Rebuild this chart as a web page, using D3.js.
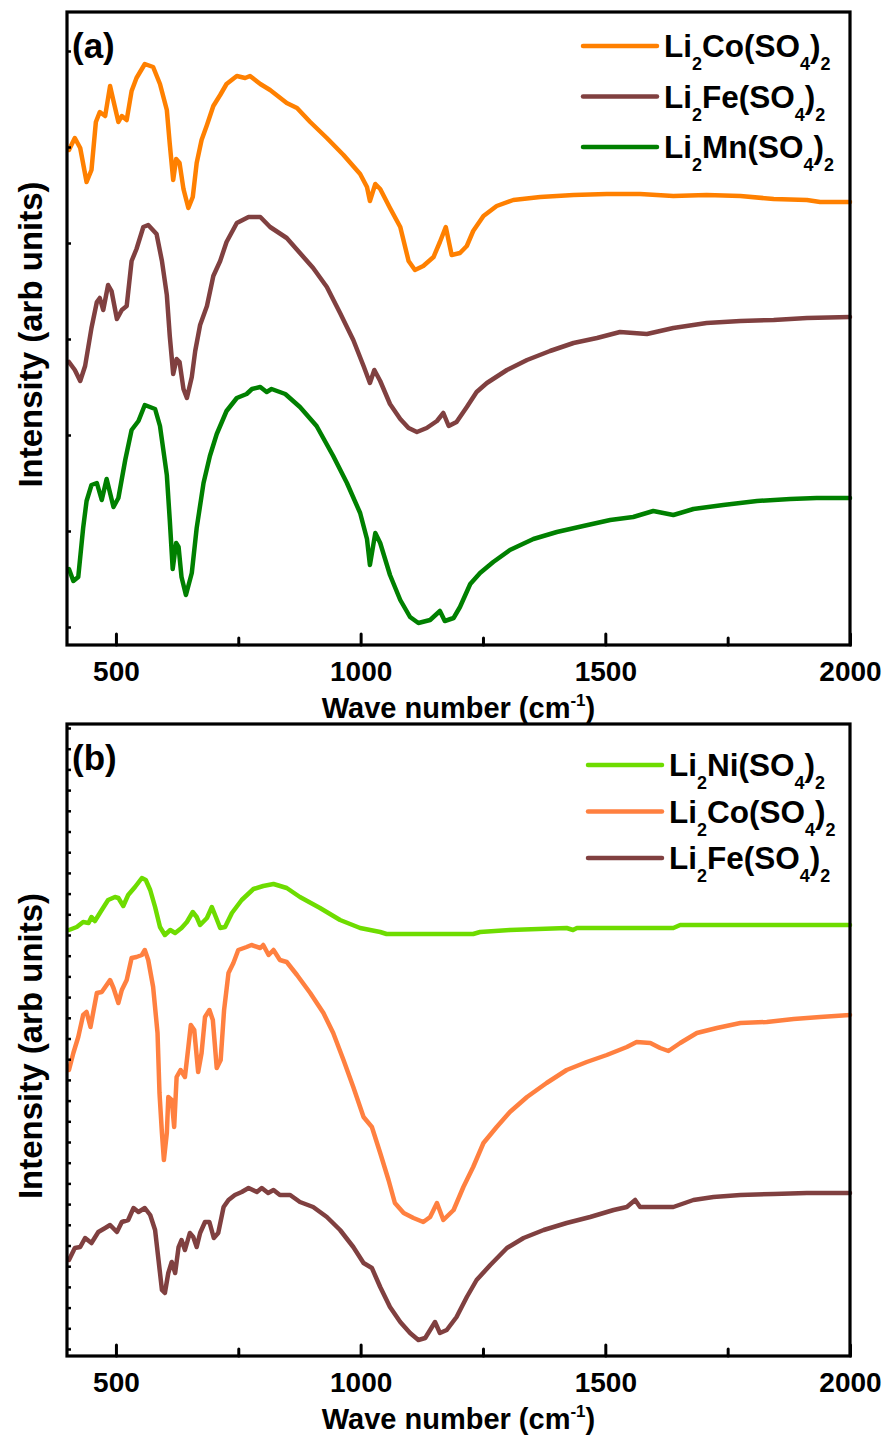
<!DOCTYPE html>
<html>
<head>
<meta charset="utf-8">
<script src="https://cdn.jsdelivr.net/npm/d3@7"></script>
<style>
  body { margin: 0; background: #fff; }
  text { font-family: "Liberation Sans", Arial, sans-serif; font-weight: bold; fill: #000; }
</style>
</head>
<body>
<svg id="chart" width="890" height="1445"></svg>
<script>
// wave number (cm-1), intensity (arb. units, offset per trace as plotted)
const coA = [[404,495],[416,507],[427,497],[440,463],[450,475],[459,523],[467,533],[478,529],[488,559],[495,544],[505,523],[512,529],[522,525],[532,554],[542,567],[559,581],[576,578],[590,561],[604,535],[610,501],[617,465],[623,486],[630,482],[638,456],[648,437],[657,448],[665,482],[675,505],[686,520],[699,539],[713,550],[726,561],[747,569],[764,567],[774,569],[795,561],[815,555],[849,542],[870,537],[897,523],[931,507],[965,490],[999,471],[1013,458],[1019,444],[1030,461],[1040,456],[1060,437],[1081,418],[1098,384],[1111,375],[1128,379],[1149,388],[1162,403],[1174,418],[1186,390],[1203,392],[1217,399],[1230,414],[1251,429],[1278,439],[1312,445],[1367,448],[1435,450],[1503,451],[1571,451],[1639,449],[1707,450],[1776,449],[1844,446],[1912,445],[1939,443],[2000,443]];
const feA = [[404,283],[416,275],[427,264],[437,279],[450,317],[461,343],[467,347],[474,335],[484,360],[491,354],[502,326],[512,335],[522,339],[532,384],[542,396],[556,418],[566,420],[583,411],[594,384],[604,350],[610,309],[617,271],[624,286],[630,283],[638,256],[645,247],[655,268],[662,294],[672,320],[686,339],[699,369],[713,384],[726,403],[747,422],[771,428],[795,428],[815,418],[849,407],[876,392],[903,377],[931,358],[958,332],[985,305],[1006,279],[1019,262],[1028,275],[1040,264],[1060,241],[1081,226],[1098,217],[1115,213],[1135,217],[1156,224],[1169,232],[1180,219],[1196,223],[1217,238],[1237,253],[1258,262],[1299,275],[1340,285],[1387,294],[1435,302],[1483,307],[1530,313],[1585,311],[1639,317],[1707,322],[1776,324],[1844,325],[1912,327],[2000,328]];
const mnA = [[404,76],[413,64],[423,68],[433,117],[440,144],[450,160],[461,162],[471,145],[481,166],[495,138],[505,147],[519,185],[532,215],[546,224],[559,240],[580,236],[590,219],[604,170],[610,125],[616,76],[623,102],[628,98],[634,68],[643,50],[655,72],[665,117],[679,162],[692,189],[706,211],[726,234],[747,247],[767,251],[778,256],[795,258],[808,253],[818,256],[846,251],[876,238],[910,219],[944,189],[972,162],[999,132],[1013,106],[1019,80],[1030,112],[1040,102],[1060,70],[1081,45],[1101,28],[1118,22],[1142,25],[1162,34],[1172,24],[1190,27],[1203,38],[1224,61],[1244,72],[1271,83],[1305,95],[1353,106],[1401,113],[1455,119],[1510,125],[1557,128],[1598,134],[1639,130],[1680,136],[1741,140],[1810,144],[1878,146],[1932,147],[2000,147]];

const niB = [[404,426],[420,429],[433,434],[444,433],[450,439],[457,435],[471,446],[484,456],[498,459],[505,458],[515,450],[525,461],[539,469],[553,478],[561,476],[570,466],[580,449],[590,429],[600,421],[611,426],[621,423],[634,428],[645,434],[657,444],[665,439],[672,431],[686,438],[696,449],[705,438],[713,428],[723,429],[737,443],[757,456],[781,467],[801,470],[822,472],[849,468],[876,459],[917,448],[958,436],[999,428],[1040,424],[1053,422],[1135,422],[1230,422],[1244,424],[1305,426],[1421,428],[1434,426],[1442,428],[1639,428],[1653,431],[1817,431],[2000,431]];
const coB = [[404,286],[413,303],[423,319],[433,341],[440,344],[448,329],[461,363],[471,364],[481,371],[488,376],[495,368],[505,353],[512,366],[522,376],[532,398],[542,399],[553,401],[559,406],[566,396],[576,369],[585,323],[589,263],[594,223],[598,196],[604,223],[607,259],[614,256],[619,229],[624,279],[632,286],[641,279],[648,309],[653,331],[660,326],[668,284],[675,303],[682,339],[691,346],[698,336],[706,288],[714,296],[721,346],[730,383],[740,393],[750,406],[767,409],[777,411],[795,408],[801,411],[812,401],[822,406],[835,396],[849,394],[870,381],[897,363],[924,343],[944,323],[965,296],[985,269],[1006,239],[1023,229],[1040,203],[1057,176],[1070,153],[1088,143],[1108,138],[1128,134],[1142,139],[1156,153],[1169,136],[1190,146],[1210,169],[1230,189],[1251,213],[1278,229],[1305,244],[1340,259],[1380,273],[1421,286],[1462,294],[1503,301],[1544,309],[1564,314],[1592,313],[1612,308],[1629,305],[1653,313],[1687,323],[1728,328],[1776,333],[1830,334],[1885,337],[1939,339],[2000,341]];
const feB = [[404,96],[416,108],[427,109],[437,118],[450,113],[464,124],[478,128],[488,131],[502,124],[512,134],[525,136],[536,148],[546,144],[559,148],[570,141],[580,126],[587,96],[594,66],[600,63],[607,83],[614,94],[621,83],[628,109],[634,116],[641,106],[651,123],[658,119],[665,109],[672,123],[682,134],[691,134],[700,118],[709,123],[720,149],[730,156],[743,161],[757,164],[771,168],[788,164],[798,168],[811,163],[822,166],[835,161],[856,161],[876,154],[903,149],[931,139],[958,126],[985,109],[1006,93],[1023,88],[1040,69],[1060,49],[1081,34],[1101,23],[1118,16],[1132,18],[1142,26],[1152,34],[1162,23],[1176,26],[1196,39],[1217,59],[1237,76],[1265,91],[1299,108],[1333,118],[1374,126],[1421,133],[1469,139],[1517,146],[1544,149],[1561,156],[1571,149],[1605,149],[1639,149],[1680,156],[1721,159],[1776,161],[1844,162],[1912,163],[2000,163]];

const majorTicks = [500, 1000, 1500, 2000];
const minorTicks = [750, 1250, 1750];
const yTicksA = [18, 114, 210, 306, 402, 498, 594];
const yTicksB = d3.range(7, 632, 20.7);

const panels = [
  { label: "(a)", top: 12, height: 633, ymax: 633, yTicks: yTicksA, legendTop: 46, legendStep: 50.5, legendX: 583,
    series: [
      { name: "Li2Co(SO4)2", data: coA, color: "#ff8000" },
      { name: "Li2Fe(SO4)2", data: feA, color: "#804040" },
      { name: "Li2Mn(SO4)2", data: mnA, color: "#008000" }
    ] },
  { label: "(b)", top: 724, height: 632, ymax: 632, yTicks: yTicksB, legendTop: 765, legendStep: 46.5, legendX: 588,
    series: [
      { name: "Li2Ni(SO4)2", data: niB, color: "#6edc00" },
      { name: "Li2Co(SO4)2", data: coB, color: "#ff8040" },
      { name: "Li2Fe(SO4)2", data: feB, color: "#804040" }
    ] }
];

const svg = d3.select("#chart");
const left = 67, right = 850;
const x = d3.scaleLinear().domain([400, 2000]).range([left, right]);

// formula with subscripted digits
function formula(sel, name, size) {
  const parts = name.split(/(\d+)/).filter(s => s.length);
  let down = false;
  parts.forEach(p => {
    const isSub = /^\d+$/.test(p);
    const t = sel.append("tspan").text(p);
    if (isSub) {
      t.attr("font-size", size * 0.57).attr("dy", down ? 0 : 13);
      down = true;
    } else {
      t.attr("font-size", size).attr("dy", down ? -13 : 0);
      down = false;
    }
  });
}

panels.forEach(p => {
  const bottom = p.top + p.height;
  const y = d3.scaleLinear().domain([0, p.ymax]).range([bottom, p.top]);
  const g = svg.append("g");

  const line = d3.line().x(d => x(d[0])).y(d => y(d[1]));

  g.selectAll("path.trace")
    .data(p.series)
    .enter()
    .append("path")
    .attr("class", "trace")
    .attr("d", d => line(d.data))
    .attr("fill", "none")
    .attr("stroke", d => d.color)
    .attr("stroke-width", 4.5)
    .attr("stroke-linejoin", "round")
    .attr("stroke-linecap", "round");

  // x axis, major ticks pointing in
  const xAxis = g.append("g")
    .attr("transform", "translate(0," + bottom + ")")
    .call(d3.axisBottom(x).tickValues(majorTicks).tickSize(-11).tickSizeOuter(0).tickPadding(16).tickFormat(d3.format("d")));
  xAxis.select(".domain").remove();
  xAxis.selectAll("line").attr("stroke-width", 3).attr("stroke-linecap", "round");
  xAxis.selectAll("text").attr("font-size", 28).attr("fill", "#000");

  const xMinor = g.append("g")
    .attr("transform", "translate(0," + bottom + ")")
    .call(d3.axisBottom(x).tickValues(minorTicks).tickSize(-7).tickSizeOuter(0).tickFormat(""));
  xMinor.select(".domain").remove();
  xMinor.selectAll("line").attr("stroke-width", 3).attr("stroke-linecap", "round");

  const yAxis = g.append("g")
    .attr("transform", "translate(" + left + ",0)")
    .call(d3.axisLeft(y).tickValues(p.yTicks).tickSize(-4).tickSizeOuter(0).tickFormat(""));
  yAxis.select(".domain").remove();
  yAxis.selectAll("line").attr("stroke-width", 2.5);

  g.append("rect")
    .attr("x", left).attr("y", p.top)
    .attr("width", right - left).attr("height", p.height)
    .attr("fill", "none").attr("stroke", "#000").attr("stroke-width", 3.2);

  g.append("text")
    .attr("x", 72).attr("y", p.top + 46)
    .attr("font-size", 35)
    .text(p.label);

  // x title
  const xt = g.append("text")
    .attr("x", (left + right) / 2).attr("y", bottom + 73)
    .attr("text-anchor", "middle")
    .attr("font-size", 29);
  xt.append("tspan").text("Wave number (cm");
  xt.append("tspan").attr("font-size", 17).attr("dy", -12).text("-1");
  xt.append("tspan").attr("dy", 12).text(")");

  // y title
  g.append("text")
    .attr("transform", "translate(42," + (p.top + p.height / 2 + 6) + ") rotate(-90)")
    .attr("text-anchor", "middle")
    .attr("font-size", 33)
    .text("Intensity (arb units)");

  // legend
  const lg = g.selectAll("g.legend")
    .data(p.series)
    .enter()
    .append("g")
    .attr("class", "legend")
    .attr("transform", (d, i) => "translate(" + p.legendX + "," + (p.legendTop + i * p.legendStep) + ")");
  lg.append("line")
    .attr("x1", 0).attr("x2", 74)
    .attr("stroke", d => d.color)
    .attr("stroke-width", 4.5)
    .attr("stroke-linecap", "round");
  lg.append("text")
    .attr("x", 81).attr("y", 11)
    .each(function (d) { formula(d3.select(this), d.name, 31.5); });
});
</script>
</body>
</html>
